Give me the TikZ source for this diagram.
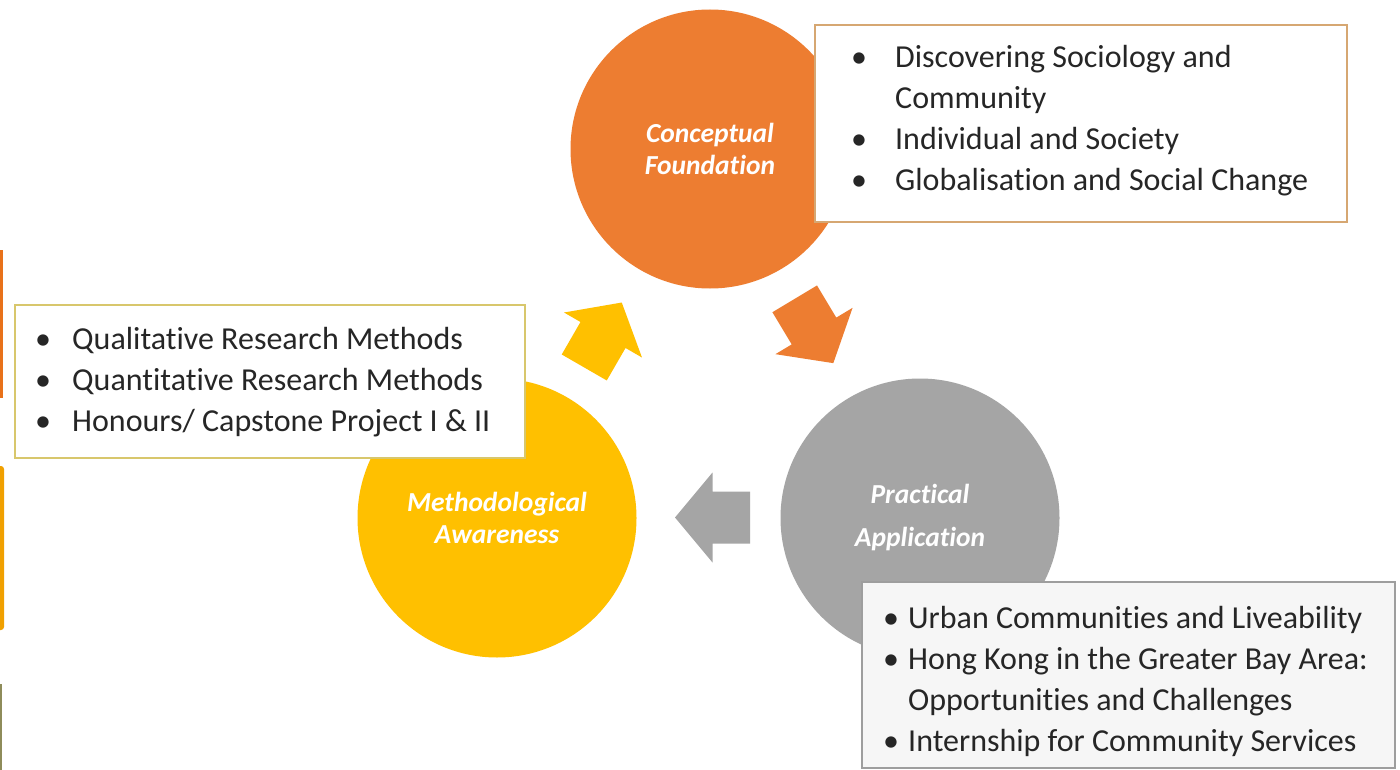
\documentclass[tikz,border=0pt]{standalone}
\usepackage{fontspec}
\setmainfont{Carlito}[Ligatures=NoCommon]
\definecolor{corange}{HTML}{ED7D31}
\definecolor{cyellow}{HTML}{FFC000}
\definecolor{cgray}{HTML}{A5A5A5}
\definecolor{bordertan}{HTML}{D6A772}
\definecolor{borderyel}{HTML}{D8C76C}
\definecolor{bordergray}{HTML}{9E9E9E}
\definecolor{boxgray}{HTML}{F6F6F6}
\definecolor{edgeorange}{HTML}{E8711A}
\definecolor{edgeamber}{HTML}{F0A000}
\definecolor{edgeolive}{HTML}{8E8C5A}
\definecolor{txt}{HTML}{262626}
\tikzset{
  phase/.style={circle, minimum size=279pt, inner sep=0pt, text=white,
    font=\fontsize{27.5}{32}\selectfont\bfseries\itshape, align=center},
  listbox/.style={draw, line width=2.5pt, rectangle, inner sep=0pt},
  listtext/.style={anchor=base west, inner sep=0pt, text=txt,
    font=\fontsize{32}{41}\selectfont},
  blockarr/.pic={\fill[#1] (-37.5,-26) -- (0,-26) -- (0,-45) -- (37.5,0) -- (0,45) -- (0,26) -- (-37.5,26) -- cycle;}
}
\begin{document}
\begin{tikzpicture}[x=1pt,y=-1pt]
\useasboundingbox (0,0) rectangle (1400,770);
\fill[white] (0,0) rectangle (1400,770);
% cropped edges of neighbouring slide
\fill[edgeorange] (0,250) rectangle (3,398);
\fill[edgeamber, rounded corners=3pt] (-4,466) rectangle (4,630);
\fill[edgeolive] (0,684) rectangle (2,770);
% circles
\node[phase, fill=corange] (cf) at (710,149) {Conceptual\\Foundation};
\node[phase, fill=cyellow] (ma) at (497,518) {Methodological\\Awareness};
\node[phase, fill=cgray] (pa) at (920,518) {Practical\\[11pt]Application};
% arrows
\pic[rotate=-59] at (814,331) {blockarr=corange};
\pic[rotate=60] at (603,335) {blockarr=cyellow};
\pic[rotate=180] at (712.5,517.5) {blockarr=cgray};
% boxes
\node[listbox, draw=bordertan, fill=white, minimum width=532pt, minimum height=197pt] (boxcf) at (1081,123.5) {};
\node[listbox, draw=borderyel, fill=white, minimum width=510pt, minimum height=153pt] (boxma) at (270,381.5) {};
\node[listbox, draw=bordergray, fill=boxgray, minimum width=533pt, minimum height=186pt] (boxpa) at (1128.5,675) {};
% lists
\node[listtext] (lcf) at (851,68) {\begin{tabular}[t]{@{}p{44pt}@{}l@{}}
\textbullet & Discovering Sociology and\\
 & Community\\
\textbullet & Individual and Society\\
\textbullet & Globalisation and Social Change
\end{tabular}};
\node[listtext] (lma) at (35,349) {\begin{tabular}[t]{@{}p{37pt}@{}l@{}}
\textbullet & Qualitative Research Methods\\
\textbullet & Quantitative Research Methods\\
\textbullet & Honours/ Capstone Project I \& II
\end{tabular}};
\node[listtext] (lpa) at (883,628) {\begin{tabular}[t]{@{}p{25pt}@{}l@{}}
\textbullet & Urban Communities and Liveability\\
\textbullet & Hong Kong in the Greater Bay Area:\\
 & Opportunities and Challenges\\
\textbullet & Internship for Community Services
\end{tabular}};
\end{tikzpicture}
\end{document}
